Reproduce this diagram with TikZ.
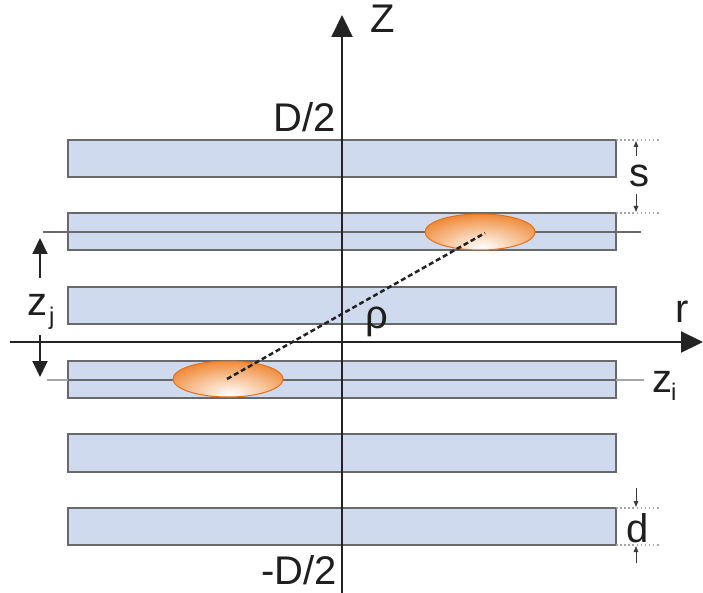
\documentclass[tikz,border=0pt]{standalone}
\usepackage{fontspec}
\setmainfont{Liberation Sans}
\usetikzlibrary{arrows.meta}
\definecolor{barfill}{RGB}{207,218,238}
\definecolor{barline}{RGB}{105,105,108}
\definecolor{axiscol}{RGB}{35,35,35}
\definecolor{orng}{RGB}{238,128,38}
\definecolor{orngdark}{RGB}{228,112,28}
\definecolor{dimcol}{RGB}{60,60,60}
\begin{document}
\begin{tikzpicture}[x=1pt,y=-1pt,
  lbl/.style={font=\fontsize{40}{48}\selectfont, inner sep=0pt, text=black!88},
  sublbl/.style={font=\fontsize{24}{28}\selectfont, inner sep=0pt, text=black!88},
  bar/.style={fill=barfill, draw=barline, line width=2pt},
  axisline/.style={draw=axiscol, line width=2.2pt, -{Triangle[length=22pt,width=21pt]}},
  sidearrow/.style={draw=axiscol, line width=2pt, -{Triangle[length=16pt,width=15pt]}},
  dimarrow/.style={draw=dimcol, line width=0.9pt, -{Triangle[length=6pt,width=4.5pt]}},
  dimline/.style={draw=black!35, line width=1.3pt, dash pattern=on 1.5pt off 2.6pt},
  rowline/.style={draw=barline, line width=1.5pt},
  rho/.style={draw=axiscol, line width=2.5pt, dash pattern=on 5pt off 3pt},
  particle/.style={draw=orngdark, line width=1pt}]
\useasboundingbox (0,0) rectangle (703,593);
\fill[white] (0,0) rectangle (703,593);

% plates
\foreach \t/\b in {140/177, 213/250, 287/324, 361/398, 434/472, 508/545}
  \draw[bar] (68,\t) rectangle (616,\b);

% level lines z_j and z_i
\coordinate (zjl) at (43,232);
\coordinate (zjr) at (641,232);
\coordinate (zil) at (47,380);
\coordinate (zir) at (644,380);
\draw[rowline] (zjl) -- (zjr);
\draw[draw=black!35, line width=1.5pt] (zil) -- (zir);
\draw[rowline] (68,380) -- (616,380);

% particles
\foreach \cx/\cy/\nm in {480/232/pj, 228/379/pi}{
  \begin{scope}
    \clip (\cx,\cy) ellipse (55 and 18);
    \fill[orng] (\cx-60,\cy-20) rectangle (\cx+60,\cy+20);
    \shade[inner color=white, outer color=orng] (\cx+2,\cy+15) ellipse (80 and 36);
  \end{scope}
  \draw[particle] (\cx,\cy) ellipse (55 and 18);
}
\coordinate (pj) at (485,233);
\coordinate (pi) at (227,379);

% axes
\coordinate (zbot) at (342,593);
\coordinate (ztop) at (342,15);
\coordinate (rleft) at (10,342);
\coordinate (rright) at (703,342);
\draw[axisline] (zbot) -- (ztop);
\draw[axisline] (rleft) -- (rright);

% distance rho
\draw[rho] (pi) -- (pj);

% side arrows for z_j
\coordinate (ua) at (40,278);
\coordinate (ub) at (40,238);
\coordinate (da) at (40,335);
\coordinate (db) at (40,377);
\draw[sidearrow] (ua) -- (ub);
\draw[sidearrow] (da) -- (db);

% dimension s
\coordinate (s1l) at (616,140); \coordinate (s1r) at (660,140);
\coordinate (s2l) at (616,213); \coordinate (s2r) at (660,213);
\draw[dimline] (s1l) -- (s1r);
\draw[dimline] (s2l) -- (s2r);
\coordinate (sa1) at (636,156); \coordinate (sa1t) at (636,141);
\coordinate (sa2) at (636,194); \coordinate (sa2t) at (636,212);
\draw[dimarrow] (sa1) -- (sa1t);
\draw[dimarrow] (sa2) -- (sa2t);

% dimension d
\coordinate (d1l) at (616,508); \coordinate (d1r) at (660,508);
\coordinate (d2l) at (616,545); \coordinate (d2r) at (660,545);
\draw[dimline] (d1l) -- (d1r);
\draw[dimline] (d2l) -- (d2r);
\coordinate (da1) at (636,488); \coordinate (da1t) at (636,507);
\coordinate (da2) at (636,563); \coordinate (da2t) at (636,546);
\draw[dimarrow] (da1) -- (da1t);
\draw[dimarrow] (da2) -- (da2t);

% labels
\node[lbl, anchor=base] (Z) at (383,33) {Z};
\node[lbl, anchor=base] (r) at (682,322) {r};
\node[lbl, anchor=base] (Dtop) at (305,132) {D/2};
\node[lbl, anchor=base] (Dbot) at (299,584) {-D/2};
\node[lbl, anchor=base] (s) at (639,187) {s};
\node[lbl, anchor=base] (d) at (638,542) {d};
\node[lbl, anchor=base] (rholbl) at (377,328) {ρ};
\node[lbl, anchor=base west] (zj) at (27,315) {z};
\node[sublbl, anchor=base west] (zjsub) at (49,324) {j};
\node[lbl, anchor=base west] (zi) at (652,392) {z};
\node[sublbl, anchor=base west] (zisub) at (671,400) {i};
\end{tikzpicture}
\end{document}
